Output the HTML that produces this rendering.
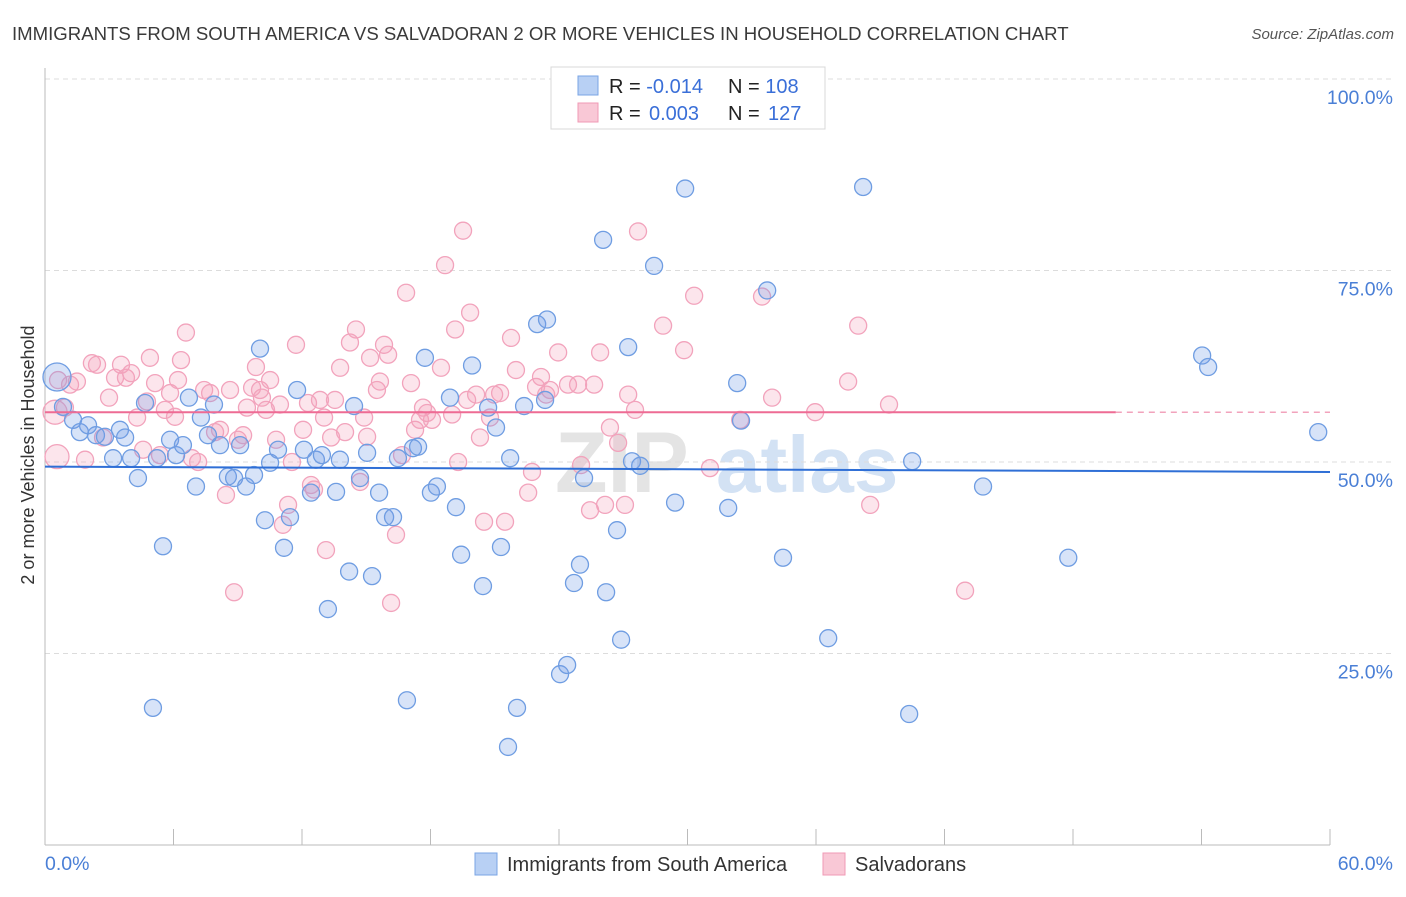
<!DOCTYPE html>
<html><head><meta charset="utf-8"><style>
body{margin:0;background:#fff;width:1406px;height:892px;overflow:hidden;font-family:"Liberation Sans",sans-serif;}
svg text{font-family:"Liberation Sans",sans-serif;}
</style></head><body>
<svg id="chart" width="1406" height="892" xmlns="http://www.w3.org/2000/svg">
<text x="12" y="40" font-size="18.6" fill="#3a3a3a">IMMIGRANTS FROM SOUTH AMERICA VS SALVADORAN 2 OR MORE VEHICLES IN HOUSEHOLD CORRELATION CHART</text>
<text x="1394" y="39" font-size="15" fill="#555" font-style="italic" text-anchor="end">Source: ZipAtlas.com</text>
<g><text x="555" y="492" font-size="86" fill="#e4e4e4" font-family="Liberation Serif" font-weight="bold">ZIP</text><text x="716" y="492" font-size="80" fill="#d3e2f4" font-weight="bold">atlas</text></g>
<g id="grid"></g>
<g id="axes"></g>
<g id="marks"></g>
<text transform="translate(34,455) rotate(-90)" font-size="18" fill="#333" text-anchor="middle">2 or more Vehicles in Household</text>
<g>
<rect x="551" y="67" width="274" height="62" fill="#fff" stroke="#d8d8d8"/>
<rect x="578" y="76" width="20" height="19" fill="#b8d0f4" stroke="#7aa4e4"/>
<rect x="578" y="103" width="20" height="19" fill="#f9c8d6" stroke="#f09ab5"/>
<text x="609" y="93" font-size="20" fill="#222">R = <tspan fill="#3a6fd8">-0.014</tspan><tspan x="728">N = </tspan><tspan fill="#3a6fd8">108</tspan></text>
<text x="609" y="120" font-size="20" fill="#222">R = <tspan x="649" fill="#3a6fd8">0.003</tspan><tspan x="728">N = </tspan><tspan x="768" fill="#3a6fd8">127</tspan></text>
</g>
<g>
<rect x="475" y="853" width="22" height="22" fill="#b8d0f4" stroke="#7aa4e4"/>
<text x="507" y="871" font-size="20" fill="#333">Immigrants from South America</text>
<rect x="823" y="853" width="22" height="22" fill="#f9c8d6" stroke="#f09ab5"/>
<text x="855" y="871" font-size="20" fill="#333">Salvadorans</text>
</g>
</svg>
<script>
const blueX=[0.56,0.84,1.31,1.63,2.01,2.38,2.80,3.18,3.50,3.74,4.02,4.34,4.67,5.04,5.23,5.51,5.84,6.12,6.44,6.72,7.05,7.28,7.61,7.89,8.17,8.54,8.83,9.11,9.39,9.76,10.04,10.27,10.51,10.88,11.16,11.44,11.77,12.09,12.42,12.65,12.93,13.21,13.59,13.77,14.20,14.43,14.71,15.04,15.27,15.60,15.88,16.25,16.48,16.90,17.18,17.42,17.74,18.02,18.30,18.91,19.19,19.43,19.94,20.45,20.69,21.06,21.29,21.62,21.72,22.04,22.37,22.98,23.44,23.35,24.05,24.38,24.70,24.98,25.17,26.06,26.20,26.71,26.90,27.23,27.41,27.79,28.44,29.42,29.89,31.90,32.32,32.50,33.72,34.46,36.57,38.20,40.35,40.49,43.80,47.78,54.03,54.31,59.45];
const blueY=[61.1,57.2,55.5,53.9,54.8,53.5,53.3,50.5,54.2,53.2,50.5,47.9,57.7,17.9,50.5,39.0,52.9,50.9,52.2,58.4,46.8,55.8,53.5,57.5,52.2,48.1,47.9,52.2,46.8,48.3,64.8,42.4,49.9,51.6,38.8,42.8,59.4,51.6,46.0,50.3,50.9,30.8,46.1,50.3,35.7,57.3,47.9,51.2,35.1,46.0,42.8,42.8,50.5,18.9,51.8,52.0,63.6,46.0,46.8,58.4,44.1,37.9,62.6,33.8,57.1,54.5,38.9,12.8,50.5,17.9,57.3,68.0,68.6,58.1,22.3,23.5,34.2,36.6,47.9,79.0,33.0,41.1,26.8,65.0,50.1,49.5,75.6,44.7,85.7,44.0,60.3,55.4,72.4,37.5,27.0,85.9,17.1,50.1,46.8,37.5,63.9,62.4,53.9];
const pinkX=[0.47,0.56,0.61,0.93,1.17,1.49,1.87,2.19,2.43,2.71,2.99,3.27,3.55,3.78,4.02,4.30,4.58,4.76,4.90,5.14,5.37,5.60,5.84,6.07,6.21,6.35,6.58,6.86,7.15,7.43,7.71,7.94,8.17,8.45,8.64,8.83,9.01,9.25,9.43,9.67,9.85,10.04,10.13,10.32,10.51,10.79,10.97,11.11,11.35,11.53,11.72,12.05,12.28,12.42,12.56,12.84,13.03,13.12,13.36,13.54,13.78,14.01,14.24,14.52,14.71,14.90,15.04,15.18,15.50,15.64,15.83,16.02,16.16,16.39,16.67,16.86,17.09,17.28,17.51,17.65,17.84,18.07,18.49,18.68,19.01,19.15,19.29,19.52,19.71,19.85,20.13,20.31,20.50,20.78,20.97,21.25,21.48,21.76,21.99,22.56,22.74,22.93,23.16,23.40,23.58,23.96,24.42,24.89,25.03,25.45,25.64,25.92,26.15,26.38,26.76,27.08,27.23,27.55,27.69,28.86,29.84,30.31,31.05,32.46,33.48,33.95,35.96,37.50,37.97,38.53,39.41,42.96];
const pinkY=[56.5,50.7,60.7,57.1,60.1,60.5,50.3,62.9,62.7,53.2,58.4,61.0,62.7,61.0,61.6,55.8,51.6,57.9,63.6,60.3,50.9,56.8,59.0,55.9,60.7,63.3,66.9,50.5,50.0,59.4,59.0,53.9,54.2,45.7,59.4,33.0,52.9,53.5,57.1,59.7,62.4,59.4,58.4,56.8,60.7,52.9,57.5,41.8,44.4,50.0,65.3,54.2,57.7,47.0,46.4,58.1,55.8,38.5,53.2,58.1,62.3,53.9,65.6,67.3,47.4,55.8,53.3,63.6,59.4,60.5,65.3,64.0,31.6,40.5,50.9,72.1,60.3,54.2,55.5,57.1,56.4,55.5,62.3,75.7,56.2,67.3,50.0,80.2,58.1,69.5,58.8,53.2,42.2,55.8,58.8,59.0,42.2,66.2,62.0,46.0,48.7,59.8,61.1,58.8,59.4,64.3,60.1,60.1,49.6,43.7,60.1,64.3,44.4,54.5,52.5,44.4,58.8,56.8,80.1,67.8,64.6,71.7,49.2,55.5,71.6,58.4,56.5,60.5,67.8,44.4,57.5,33.2];
const yTicks=[25,50,75,100];
const yTickLabels=["25.0%","50.0%","75.0%","100.0%"];
const xTicks=[0,6,12,18,24,30,36,42,48,54,60];
const blueTrend=[49.4,48.7];
const pinkTrend=[56.5,56.5];
const pinkTrendEnd=50;

const NS="http://www.w3.org/2000/svg";
const X0=45,X1=1330,Y0=845,YP=79;
const sx=v=>X0+(v/60)*(X1-X0);
const sy=v=>Y0-(v/100)*(Y0-YP);
function mk(tag,attrs,parent){const e=document.createElementNS(NS,tag);for(const k in attrs)e.setAttribute(k,attrs[k]);parent.appendChild(e);return e;}
const grid=document.getElementById('grid'),axes=document.getElementById('axes'),marks=document.getElementById('marks');
yTicks.forEach((t,i)=>{
  const g=mk('line',{x1:X0,x2:1395,y1:sy(t),y2:sy(t),stroke:'#dcdcdc','stroke-dasharray':'5,4'},grid);
  
  
  const l=mk('text',{x:1393,y:sy(t)+25,'font-size':19.5,fill:'#4a7fd6','text-anchor':'end'},axes);
  l.textContent=yTickLabels[i];
  
  
});
const ya=mk('line',{x1:X0,x2:X0,y1:68,y2:Y0,stroke:'#bbb'},axes);


const xa=mk('line',{x1:X0,x2:X1,y1:Y0,y2:Y0,stroke:'#bbb'},axes);


xTicks.forEach(t=>{
  const k=mk('line',{x1:sx(t),x2:sx(t),y1:Y0-16,y2:Y0,stroke:'#bbb'},axes);
  
  
});
const xl0=mk('text',{x:45,y:870,'font-size':19.5,fill:'#4a7fd6'},axes);xl0.textContent=xTicks[0].toFixed(1)+'%';


const xl1=mk('text',{x:1393,y:870,'font-size':19.5,fill:'#4a7fd6','text-anchor':'end'},axes);xl1.textContent=xTicks[xTicks.length-1].toFixed(1)+'%';



pinkX.forEach((x,i)=>{
  const c=mk('circle',{cx:sx(x),cy:sy(pinkY[i]),r:i<2?12:8.5,fill:'rgba(244,160,188,0.28)',stroke:'#f2a3bc','stroke-width':1.3},marks);
  
  
});
blueX.forEach((x,i)=>{
  const c=mk('circle',{cx:sx(x),cy:sy(blueY[i]),r:i===0?14:8.5,fill:'rgba(110,155,230,0.28)',stroke:'#6f9de2','stroke-width':1.3},marks);
  
  
});
const bl=mk('line',{x1:sx(0),x2:sx(60),y1:sy(blueTrend[0]),y2:sy(blueTrend[1]),stroke:'#2f6fd6','stroke-width':2},marks);


const pl=mk('line',{x1:sx(0),x2:sx(pinkTrendEnd),y1:sy(pinkTrend[0]),y2:sy(pinkTrend[1]),stroke:'#ee6b94','stroke-width':2},marks);


const pd=mk('line',{x1:sx(pinkTrendEnd),x2:sx(60),y1:sy(pinkTrend[1]),y2:sy(pinkTrend[1]),stroke:'#f2a3bc','stroke-width':1.5,'stroke-dasharray':'6,5'},marks);


</script>
</body></html>
